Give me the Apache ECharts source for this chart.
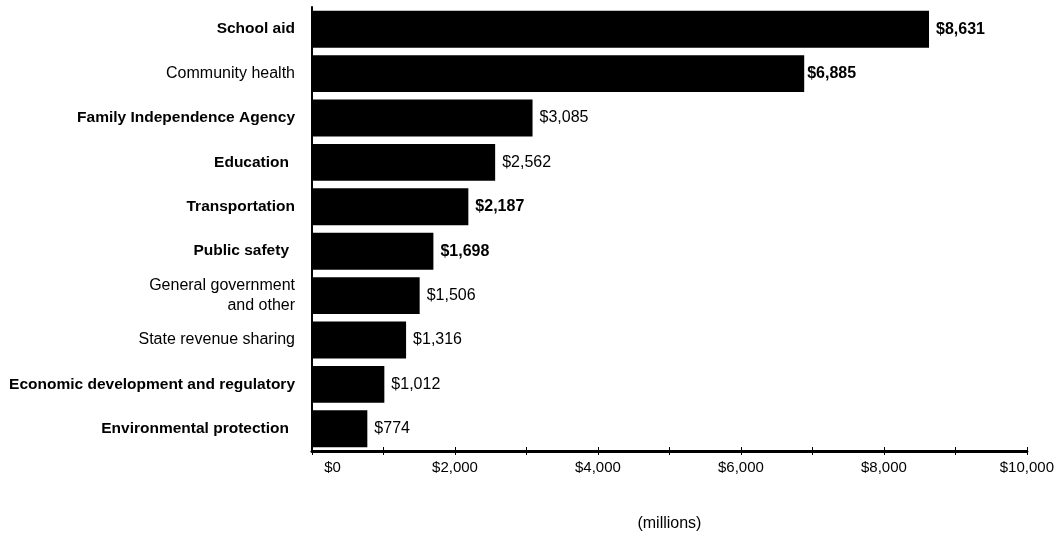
<!DOCTYPE html>
<html>
<head>
<meta charset="utf-8">
<title>General Fund spending by area</title>
<script src="https://cdn.jsdelivr.net/npm/echarts@6/dist/echarts.min.js"></script>
<style>
  html, body { margin: 0; padding: 0; background: #ffffff; }
  #chart { width: 1057px; height: 537px; }
</style>
</head>
<body>
<div id="chart"></div>
<script>
// Spending areas, top to bottom
const categories = [
  'School aid',
  'Community health',
  'Family Independence Agency',
  'Education',
  'Transportation',
  'Public safety',
  'General government\nand other',
  'State revenue sharing',
  'Economic development and regulatory',
  'Environmental protection'
];

// Spending in millions of dollars
const spending = [8631, 6885, 3085, 2562, 2187, 1698, 1506, 1316, 1012, 774];

// Axis range and tick step (millions)
const axisMin = 0;
const axisMax = 10000;
const tickStep = 1000;
const axisTitle = '(millions)';

const FONT = "'Liberation Sans', Arial, sans-serif";

// Category names set in bold type
const boldCategories = new Set([
  'School aid', 'Family Independence Agency', 'Education', 'Transportation',
  'Public safety', 'Economic development and regulatory', 'Environmental protection'
]);
// Category names that sit slightly further left of the axis
const indentedCategories = new Set(['Education', 'Public safety', 'Environmental protection']);
// Value labels set in bold type
const boldValues = new Set(['School aid', 'Community health', 'Transportation', 'Public safety']);

const money = v => '$' + v.toLocaleString('en-US');

const barData = spending.map((v, i) => {
  const name = categories[i];
  const item = { value: v, label: { fontWeight: boldValues.has(name) ? 'bold' : 'normal' } };
  if (name === 'Community health') item.label.distance = 3;
  return item;
});

const chart = echarts.init(document.getElementById('chart'), null, { renderer: 'canvas' });

const valueAxisBase = {
  type: 'value',
  min: axisMin,
  max: axisMax,
  interval: tickStep,
  splitLine: { show: false }
};

chart.setOption({
  animation: false,
  backgroundColor: '#ffffff',
  grid: { left: 312, right: 29, top: 7, bottom: 85, containLabel: false },
  xAxis: [
    Object.assign({}, valueAxisBase, {
      name: axisTitle,
      nameLocation: 'middle',
      nameGap: 65,
      nameTextStyle: { color: '#000', fontFamily: FONT, fontSize: 16 },
      axisLine: { show: true, lineStyle: { color: '#000', width: 3 } },
      axisTick: { show: true, length: 4, lineStyle: { color: '#000', width: 1 } },
      axisLabel: {
        color: '#000',
        fontFamily: FONT,
        fontSize: 15,
        margin: 9,
        formatter: v => {
          if (v === 0) return '{z|' + money(v) + '}';
          return v % 2000 === 0 ? money(v) : '';
        },
        rich: {
          z: { color: '#000', fontFamily: FONT, fontSize: 15, padding: [0, 0, 0, 41] }
        }
      }
    }),
    // Upper half of the tick marks, so each tick crosses the axis line
    Object.assign({}, valueAxisBase, {
      position: 'bottom',
      axisLine: { show: false },
      axisTick: { show: true, inside: true, length: 4, lineStyle: { color: '#000', width: 1 } },
      axisLabel: { show: false }
    })
  ],
  yAxis: {
    type: 'category',
    data: categories,
    inverse: true,
    axisLine: { show: true, lineStyle: { color: '#000', width: 2 } },
    axisTick: { show: false },
    splitLine: { show: false },
    axisLabel: {
      margin: 17,
      color: '#000',
      fontFamily: FONT,
      fontSize: 16,
      lineHeight: 20,
      formatter: v => {
        if (!boldCategories.has(v)) return v;
        return (indentedCategories.has(v) ? '{bi|' : '{b|') + v + '}';
      },
      rich: {
        b: { color: '#000', fontFamily: FONT, fontSize: 15.5, fontWeight: 'bold', lineHeight: 20 },
        bi: { color: '#000', fontFamily: FONT, fontSize: 15.5, fontWeight: 'bold', lineHeight: 20, padding: [0, 6, 0, 0] }
      }
    }
  },
  series: [{
    type: 'bar',
    xAxisIndex: 0,
    data: barData,
    barCategoryGap: '17%',
    itemStyle: { color: '#000' },
    label: {
      show: true,
      position: 'right',
      distance: 7,
      color: '#000',
      fontFamily: FONT,
      fontSize: 16,
      formatter: p => money(p.value)
    }
  }]
});
</script>
</body>
</html>
